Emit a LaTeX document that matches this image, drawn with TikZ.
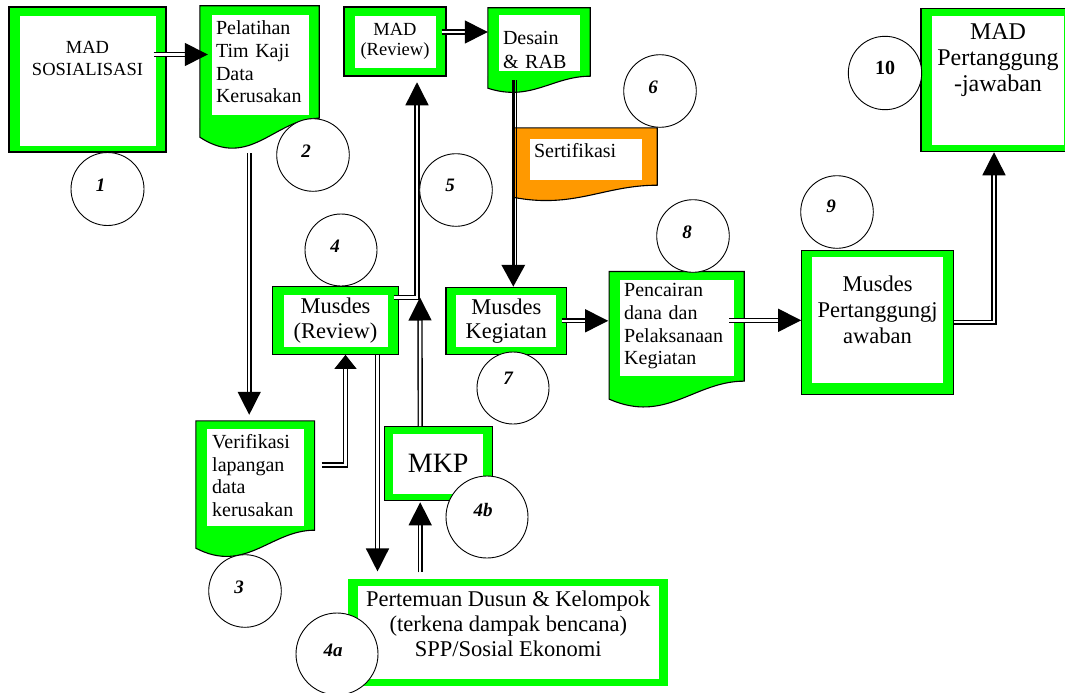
\documentclass[tikz,border=0pt]{standalone}
\usepackage{fontspec}
\setmainfont{Liberation Serif}
\usetikzlibrary{arrows.meta,calc}
\definecolor{grn}{rgb}{0,1,0}
\definecolor{org}{rgb}{1,0.6,0}

\tikzset{
  inset/.style n args={4}{path picture={\fill[white]
      ([shift={(#1,#3)}]path picture bounding box.north west) rectangle
      ([shift={(-#2,-#4)}]path picture bounding box.south east);}},
  gbox/.style={draw=black, line width=1.1pt, fill=grn, inner sep=0pt,
      align=center, inset={11}{10}{8}{7}},
  doc/.style={fill=grn, inner sep=0pt, align=left, inset={11}{10}{8}{4}},
  num/.style={circle, draw=black, line width=0.9pt, fill=white, inner sep=0pt},
  nlbl/.style={font=\fontsize{19}{19}\selectfont\bfseries\itshape},
  dbl/.style={draw=black, double=white, double distance=2.5pt, line width=1.4pt,
      -{Triangle[length=23pt,width=23pt]}},
  thk/.style={line width=3.5pt, -{Triangle[length=22pt,width=23pt]}},
}

% wavy bottom of a document box: node, colour, left drop, dip
\newcommand{\docwave}[4]{%
  \fill[#2] let \p1=(#1.south west), \p2=(#1.south east), \n1={\x2-\x1} in
    (\p2) .. controls ($(\p2)+(-0.37*\n1,0)$) and ($(\p2)+(-0.58*\n1,#4)$) ..
    ($(\p1)+(0,#3)$) -- (\p1) -- cycle;
  \draw[line width=1.1pt] let \p1=(#1.south west), \p2=(#1.south east), \n1={\x2-\x1} in
    (#1.north west) -- (#1.north east) -- (\p2)
    .. controls ($(\p2)+(-0.37*\n1,0)$) and ($(\p2)+(-0.58*\n1,#4)$) ..
    ($(\p1)+(0,#3)$) -- cycle;
}

\begin{document}
\begin{tikzpicture}[x=1pt, y=-1pt]
  \useasboundingbox (0,0) rectangle (1065,693);

  % Boxes
  \node[gbox, minimum width=157pt, minimum height=145pt, inset={11}{10}{9}{6},
        font=\fontsize{18.5}{22}\selectfont, text depth=43pt] (b1) at (87.5,79.5) {MAD\\SOSIALISASI};
  \node[doc, minimum width=119pt, minimum height=112pt, text width=87pt, inset={12}{10}{9}{3},
        font=\fontsize{20}{22.7}\selectfont] (b2) at (259.5,62) {Pelatihan\\Tim Kaji\\Data\\Kerusakan};
  \docwave{b2}{grn}{19}{52}
  \node[gbox, minimum width=102pt, minimum height=69pt, inset={11}{10}{8.7}{7.7},
        font=\fontsize{18.5}{20}\selectfont] (b3) at (395,41.5) {MAD\\(Review)};
  \node[doc, minimum width=102pt, minimum height=68pt, text width=72pt, inset={11}{10}{7}{5},
        font=\fontsize{20}{23.7}\selectfont, text depth=8pt] (b4) at (539,42) {Desain\\\& RAB};
  \docwave{b4}{grn}{12}{26}
  \node[doc, fill=org, minimum width=144pt, minimum height=57pt, text width=102pt, inset={17}{15}{11}{5},
        font=\fontsize{20}{22.7}\selectfont, text depth=13pt] (b5) at (585,156.5) {Sertifikasi};
  \docwave{b5}{org}{12}{24}
  \node[gbox, minimum width=125.6pt, minimum height=67.6pt, inset={11.3}{10}{8.3}{7.6},
        font=\fontsize{22.5}{25}\selectfont] (b6) at (335.5,320.5) {Musdes\\(Review)};
  \node[gbox, minimum width=120.7pt, minimum height=67pt, inset={10}{10.7}{7.7}{7.6},
        font=\fontsize{22.5}{24.3}\selectfont] (b7) at (506.3,320.8) {Musdes\\Kegiatan};
  \node[doc, minimum width=134.7pt, minimum height=109.3pt, text width=105pt, inset={10.7}{10}{8.3}{5.3},
        font=\fontsize{20}{22.7}\selectfont] (b8) at (676.7,326.3) {Pencairan\\dana dan\\Pelaksanaan\\Kegiatan};
  \docwave{b8}{grn}{18}{43}
  \node[gbox, minimum width=151.6pt, minimum height=144.3pt, inset={10.7}{10}{7.3}{11},
        font=\fontsize{22.5}{25.8}\selectfont, text depth=25pt] (b9) at (877.5,322.2) {Musdes\\Pertanggungj\\awaban};
  \node[gbox, minimum width=154pt, minimum height=143.4pt, inset={11.3}{11}{7.7}{6.7},
        font=\fontsize{24}{26}\selectfont, text depth=45pt] (b10) at (998,80) {MAD\\Pertanggung\\-jawaban};
  \node[doc, minimum width=118.3pt, minimum height=109pt, text width=86pt, inset={10.7}{10.3}{8.3}{4.3},
        font=\fontsize{20}{22.7}\selectfont] (b11) at (255.2,475.5) {Verifikasi\\lapangan\\data\\kerusakan};
  \docwave{b11}{grn}{18}{44}
  \node[gbox, minimum width=108.3pt, minimum height=74pt, inset={9.3}{9.7}{7.7}{6.7},
        font=\fontsize{28}{30}\selectfont] (b12) at (438.2,463.7) {MKP};
  \node[gbox, draw=none, minimum width=320pt, minimum height=107pt, inset={9.4}{9.3}{6.7}{6.7},
        font=\fontsize{22.5}{25.3}\selectfont, text depth=18pt] (b13) at (508.3,632.5)
        {Pertemuan Dusun \& Kelompok\\(terkena dampak bencana)\\SPP/Sosial Ekonomi};

  % Connectors
  \coordinate (jn) at (417,297.5);
  \draw[dbl] ($(b1.east)+(-13,-25)$) -- ($(b1.east -| b2.west)+(8,-25)$);
  \draw[dbl] ($(b3.east)+(-5,-9.5)$) -- ($(b3.east -| b4.west)+(0,-9.5)$);
  \draw[dbl] ($(b11.north |- b2.south)+(-6,35)$) -- ($(b11.north)+(-6,-6)$);
  \draw[dbl, -{Triangle[length=14pt,width=22pt]}] ($(b11.east)+(7,-10.5)$) -| ($(b6.south)+(10,0)$);
  \draw[dbl] ($(b6.south)+(42,0)$) -- ($(b6.south |- b13.north)+(42,-7)$);
  \draw[dbl] ($(b12.south |- b13.north)+(-18,-6)$) -- ($(b12.south)+(-18,1)$);
  \draw[dbl] ($(b12.north)+(-18,0)$) -- ($(jn)+(3,0)$);
  \draw[dbl] ($(b6.east |- jn)+(-5,0)$) -- (jn) -- ($(jn |- b3.south)+(0,5.7)$);
  \draw[thk] ($(b7.north |- b4.south)+(7,4)$) -- ($(b7.north)+(7,0)$);
  \draw[line width=1pt] ($(b7.north |- b4.south)+(10.6,4)$) -- ($(b7.north)+(10.6,-22)$);
  \draw[dbl] ($(b7.east)+(-5,0)$) -- ($(b7.east -| b8.west)+(-1,0)$);
  \draw[dbl] ($(b8.east)+(-15,-6)$) -- ($(b8.east -| b9.west)+(0,-6)$);
  \draw[dbl] (b9.east) -- ($(b9.east -| b10.south)+(-4,0)$) -- ($(b10.south)+(-4,0)$);

  % Step numbers
  \node[num, minimum size=73pt, label={[nlbl, shift={(-7,-4)}]center:1}] (c1) at (107.5,189) {};
  \node[num, minimum size=72.6pt, label={[nlbl, shift={(-7,-4)}]center:2}] (c2) at (313,155) {};
  \node[num, minimum size=72.6pt, label={[nlbl, shift={(-6,-4)}]center:3}] (c3) at (245,591) {};
  \node[num, minimum size=72pt, label={[nlbl, shift={(-6,-4)}]center:4}] (c4) at (341,250) {};
  \node[num, minimum size=82pt, label={[nlbl, shift={(-4,-4)}]center:4a}] (c4a) at (337,654) {};
  \node[num, minimum size=82pt, label={[nlbl, shift={(-4,-7)}]center:4b}] (c4b) at (487,517) {};
  \node[num, minimum size=72.6pt, label={[nlbl, shift={(-6,-5)}]center:5}] (c5) at (456,190) {};
  \node[num, minimum size=72.6pt, label={[nlbl, shift={(-7,-4)}]center:6}] (c6) at (660,91) {};
  \node[num, minimum size=72pt, label={[nlbl, shift={(-5,-10)}]center:7}] (c7) at (513,388) {};
  \node[num, minimum size=72.6pt, label={[nlbl, shift={(-6,-4)}]center:8}] (c8) at (693,236) {};
  \node[num, minimum size=72.6pt, label={[nlbl, shift={(-6,-6)}]center:9}] (c9) at (837,212) {};
  \node[num, minimum size=73.4pt, label={[nlbl, font=\fontsize{20}{20}\selectfont\bfseries,
        shift={(0,-5)}]center:10}] (c10) at (885,73) {};
\end{tikzpicture}
\end{document}
